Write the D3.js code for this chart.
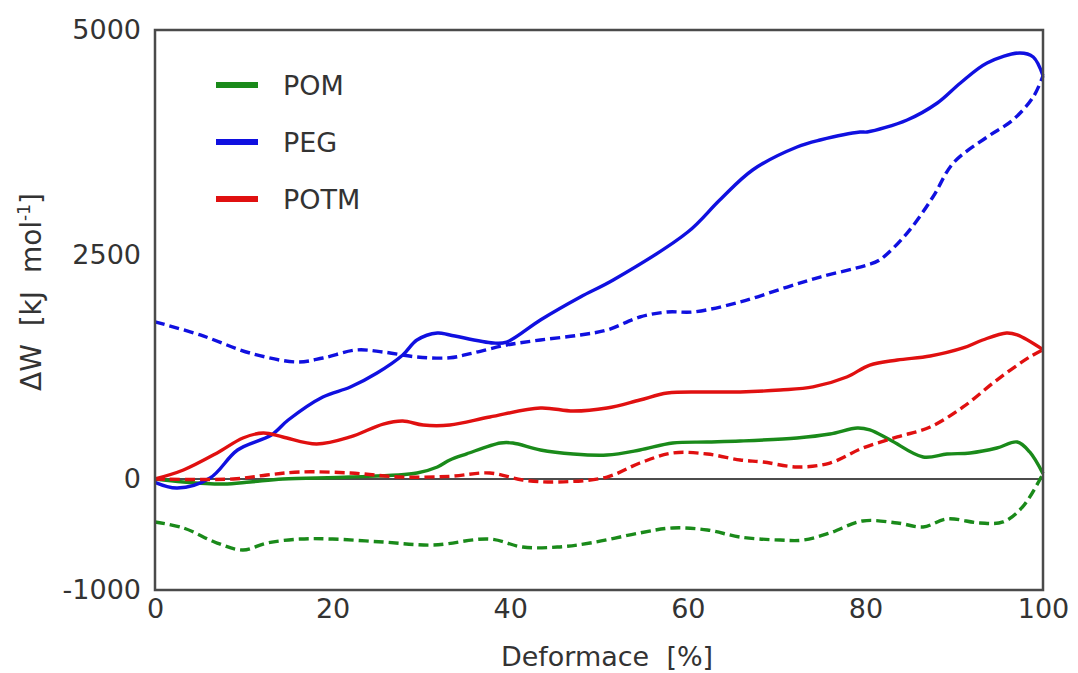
<!DOCTYPE html>
<html>
<head>
<meta charset="utf-8">
<script src="https://cdn.jsdelivr.net/npm/d3@7"></script>
<style>
html,body{margin:0;padding:0;background:#fff;}
svg text{font-family:"DejaVu Sans",Verdana,sans-serif;fill:#333;}
</style>
</head>
<body>
<svg id="chart" width="1078" height="673"></svg>
<script>
// ---- data (Deformace [%], ΔW [kJ mol-1]) ----
const xTicks = [0, 20, 40, 60, 80, 100];
const yTicks = [-1000, 0, 2500, 5000];
const seriesNames = ["POM", "PEG", "POTM"];
const seriesColors = ["#1a8a1a", "#1010e0", "#e01010"];

const pegSolidX = [0, 2.5, 6.2, 9.3, 13.1, 15.0, 18.9, 22.0, 25.0, 27.9, 29.5, 31.8, 33.2, 38.1, 39.6, 43.4, 47.9, 51.6, 60.0, 63.6, 67.3, 72.3, 74.9, 79.4, 80.2, 84.7, 88.1, 90.7, 93.7, 97.4, 98.9, 100];
const pegSolidY = [-30, -81, 11, 323, 490, 657, 913, 1024, 1180, 1381, 1548, 1626, 1604, 1514, 1525, 1771, 2027, 2216, 2750, 3107, 3441, 3697, 3775, 3864, 3864, 3998, 4187, 4410, 4633, 4744, 4699, 4490];
const pegDashX = [0, 5.1, 10.7, 16.0, 18.9, 22.7, 25.7, 29.5, 33.2, 35.8, 39.6, 43.4, 47.9, 50.9, 54.6, 57.7, 60.6, 65.9, 71.2, 74.9, 80.2, 81.6, 84.7, 87.6, 89.9, 93.7, 96.6, 98.9, 100];
const pegDashY = [1750, 1604, 1403, 1303, 1347, 1437, 1414, 1359, 1350, 1403, 1492, 1548, 1604, 1659, 1804, 1860, 1860, 1971, 2138, 2249, 2383, 2439, 2739, 3140, 3519, 3808, 3998, 4254, 4490];

const potmSolidX = [0, 3.2, 7.0, 9.9, 12.2, 14.4, 18.2, 22.0, 25.7, 27.9, 30.2, 33.2, 37.7, 43.4, 47.1, 50.9, 54.6, 57.7, 62.2, 65.9, 70.4, 74.1, 77.9, 80.5, 83.6, 87.3, 91.0, 93.2, 95.9, 97.1, 100];
const potmSolidY = [0, 100, 290, 457, 512, 468, 390, 468, 612, 646, 601, 601, 690, 791, 757, 791, 880, 958, 969, 969, 991, 1025, 1136, 1269, 1325, 1370, 1459, 1548, 1626, 1604, 1440];
const potmDashX = [0, 8.8, 12.6, 16.3, 22.0, 27.6, 33.2, 37.7, 41.4, 45.3, 50.9, 54.6, 58.3, 62.2, 65.9, 68.5, 72.3, 76.0, 79.7, 83.6, 87.3, 91.0, 94.8, 98.5, 100];
const potmDashY = [0, 0, 45, 78, 67, 22, 30, 67, -9, -27, 22, 178, 290, 278, 212, 189, 134, 178, 345, 468, 579, 802, 1102, 1359, 1440];

const pomSolidX = [0, 3.2, 7.7, 10.7, 14.4, 22.0, 29.5, 31.8, 33.2, 35.1, 38.9, 40.3, 43.4, 47.1, 50.9, 54.6, 58.3, 62.2, 65.9, 72.3, 76.0, 79.1, 80.5, 82.8, 86.5, 89.2, 91.8, 94.8, 97.1, 98.5, 100];
const pomSolidY = [0, -27, -45, -27, 0, 22, 67, 134, 212, 280, 401, 401, 323, 278, 267, 323, 401, 412, 423, 457, 501, 568, 546, 434, 245, 278, 290, 345, 412, 301, 60];
const pomDashX = [0, 3.2, 7.0, 9.9, 12.6, 16.3, 20.0, 25.7, 31.3, 37.7, 41.4, 45.3, 49.0, 54.6, 58.3, 62.2, 65.9, 70.4, 73.0, 76.0, 79.7, 83.6, 86.5, 89.2, 92.9, 95.5, 97.7, 100];
const pomDashY = [-387, -441, -577, -640, -577, -541, -541, -568, -595, -541, -613, -613, -577, -486, -441, -459, -523, -550, -550, -486, -378, -396, -432, -360, -396, -387, -252, 60];

// ---- layout ----
const svg = d3.select("#chart");
const mLeft = 155, mRight = 1043, mTop = 30, mBottom = 590;
const x = d3.scaleLinear().domain([0, 100]).range([mLeft, mRight]);
const y = d3.scaleLinear().domain([-1000, 0, 5000]).range([mBottom, 479, mTop]);
const fmt = d => String(d);

const curves = [
  {xs: pomSolidX, ys: pomSolidY, c: 0, dash: null},
  {xs: pomDashX, ys: pomDashY, c: 0, dash: "10,5"},
  {xs: pegSolidX, ys: pegSolidY, c: 1, dash: null},
  {xs: pegDashX, ys: pegDashY, c: 1, dash: "10,5"},
  {xs: potmSolidX, ys: potmSolidY, c: 2, dash: null},
  {xs: potmDashX, ys: potmDashY, c: 2, dash: "10,5"}
];

// zero line
svg.append("line").attr("x1", x(0)).attr("x2", x(100)).attr("y1", y(0)).attr("y2", y(0))
  .attr("stroke", "#111").attr("stroke-width", 1.5);

const line = d3.line().x(d => x(d[0])).y(d => y(d[1])).curve(d3.curveCatmullRom.alpha(0.5));
curves.forEach(s => {
  const pts = s.xs.map((v, i) => [v, s.ys[i]]);
  svg.append("path").datum(pts).attr("d", line).attr("fill", "none")
    .attr("stroke", seriesColors[s.c]).attr("stroke-width", 3.4)
    .attr("stroke-dasharray", s.dash).attr("stroke-linejoin", "round");
});

// frame
svg.append("rect").attr("x", mLeft).attr("y", mTop).attr("width", mRight - mLeft).attr("height", mBottom - mTop)
  .attr("fill", "none").attr("stroke", "#4a4a4a").attr("stroke-width", 2.5);

// axes (no tick marks)
const xAxis = svg.append("g").attr("transform", `translate(0,${mBottom})`)
  .call(d3.axisBottom(x).tickValues(xTicks).tickSize(0).tickPadding(9).tickFormat(fmt));
xAxis.select(".domain").remove();
xAxis.selectAll("text").attr("font-size", 27).attr("fill", "#333").attr("dy", "0.71em");

const yAxis = svg.append("g").attr("transform", `translate(${mLeft},0)`)
  .call(d3.axisLeft(y).tickValues(yTicks).tickSize(0).tickPadding(14).tickFormat(fmt));
yAxis.select(".domain").remove();
yAxis.selectAll("text").attr("font-size", 27).attr("fill", "#333");

// axis titles
svg.append("text").attr("x", 607).attr("y", 666).attr("text-anchor", "middle")
  .attr("font-size", 27).style("white-space", "pre").text("Deformace  [%]");

const yt = svg.append("text").attr("transform", "translate(41,292) rotate(-90)")
  .attr("text-anchor", "middle").attr("font-size", 28).style("white-space", "pre");
yt.append("tspan").text("ΔW  [kJ  mol");
yt.append("tspan").attr("font-size", 17).attr("dy", -11).text("-1");
yt.append("tspan").attr("dy", 11).text("]");

// legend
const legY = [85, 142, 199];
seriesNames.forEach((n, i) => {
  svg.append("line").attr("x1", 216).attr("x2", 258).attr("y1", legY[i]).attr("y2", legY[i])
    .attr("stroke", seriesColors[i]).attr("stroke-width", 6);
  svg.append("text").attr("x", 283).attr("y", legY[i]).attr("dy", "0.36em")
    .attr("font-size", 27).text(n);
});
</script>
</body>
</html>
